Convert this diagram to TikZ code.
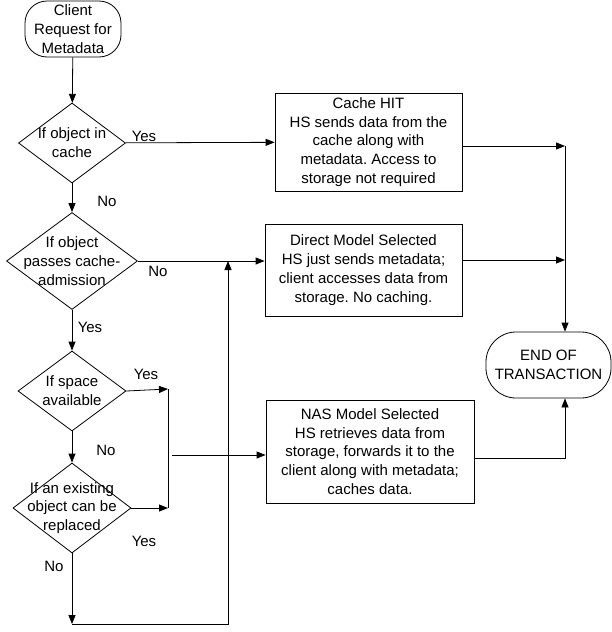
\documentclass[tikz,border=0pt]{standalone}
\usepackage{fontspec}
\setmainfont{Liberation Sans}
\usetikzlibrary{shapes.geometric,arrows.meta}
\frenchspacing

\tikzset{
    txt/.style={font=\fontsize{15}{18.8}\selectfont, align=center},
    flowbox/.style={draw, txt, inner sep=1pt},
    terminal/.style={flowbox, rounded corners=22pt},
    decision/.style={draw, diamond, inner sep=0pt}
}

\begin{document}
\begin{tikzpicture}[x=1pt, y=-1pt, line width=0.8pt, >={Triangle[length=9pt,width=7pt]}]
    \useasboundingbox (0,0) rectangle (611,632);

    % left column
    \node[terminal, minimum width=96pt, minimum height=56pt] (start) at (73,29)
        {Client\\Request for\\Metadata};
    \node[decision, minimum width=107pt, minimum height=80pt,
        label={[txt]center:If object in\\cache}] (incache) at (72,143) {};
    \node[decision, minimum width=131pt, minimum height=97pt,
        label={[txt]center:If object\\passes cache-\\admission}] (admit) at (72,261) {};
    \node[decision, minimum width=108pt, minimum height=80pt,
        label={[txt]center:If space\\available}] (space) at (72,391) {};
    \node[decision, minimum width=118pt, minimum height=90pt,
        label={[txt]center:If an existing\\object can be\\replaced}] (replace) at (72,508) {};

    % right column
    \node[flowbox, minimum width=187pt, minimum height=98pt] (hit) at (368.5,142)
        {Cache HIT\\HS sends data from the\\cache along with\\metadata. Access to\\storage not required};
    \node[flowbox, minimum width=197pt, minimum height=92pt] (direct) at (363.5,270)
        {Direct Model Selected\\HS just sends metadata;\\client accesses data from\\storage. No caching.};
    \node[flowbox, minimum width=208pt, minimum height=103pt] (nas) at (370,451.5)
        {NAS Model Selected\\HS retrieves data from\\storage, forwards it to the\\client along with metadata;\\caches data.};
    \node[terminal, rounded corners=30pt, minimum width=125pt, minimum height=66pt] (finish) at (548.5,365)
        {END OF\\TRANSACTION};

    % branch labels
    \node[txt] (yes1) at (144,136) {Yes};
    \node[txt] (no1) at (107,201) {No};
    \node[txt] (no2) at (158,271) {No};
    \node[txt] (yes2) at (90,327) {Yes};
    \node[txt] (yes3) at (146,374) {Yes};
    \node[txt] (no3) at (106,450) {No};
    \node[txt] (yes4) at (144,541) {Yes};
    \node[txt] (no4) at (54,566) {No};

    % junction points
    \coordinate (jspace) at (168,389);
    \coordinate (jrepl) at (168,508);
    \coordinate (jnas) at (172,455);
    \coordinate (jlow) at (72,624);
    \coordinate (jup) at (228,261);
    \coordinate (jhit) at (565,146);
    \coordinate (jdir) at (565,260);
    \coordinate (jnasr) at (565,458);

    \draw[->] (start) -- (incache);
    \draw[->] (incache) -- (hit);
    \draw[->] (incache) -- (admit);
    \draw[->] (admit.east) -- (admit.east -| direct.west);
    \draw[->] (admit) -- (space);
    \draw[->] (space) -- (replace);
    \draw[->] (space.east) -- (jspace);
    \draw[->] (replace.east) -- (jrepl);
    \draw (jspace) -- (jrepl);
    \draw[->] (jnas) -- (jnas -| nas.west);
    \draw[->] (replace.south) -- (jlow);
    \draw[->] (jlow) -| (jup);

    \draw[->] (hit.east |- jhit) -- (jhit);
    \draw[->] (direct.east |- jdir) -- (jdir);
    \draw[->] (jhit) -- (jhit |- finish.north);
    \draw[->] (nas.east |- jnasr) -- (jnasr) -- (jnasr |- finish.south);
\end{tikzpicture}
\end{document}
